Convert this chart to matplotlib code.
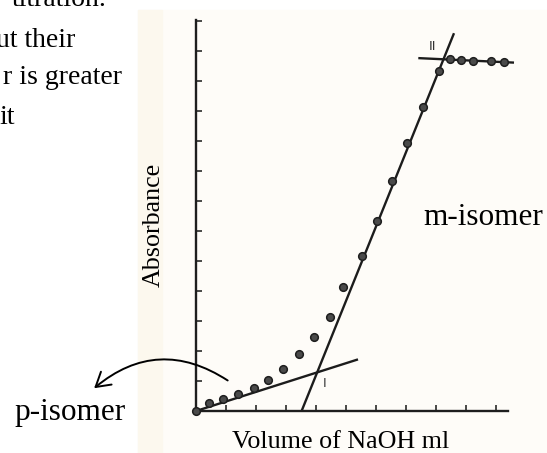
import numpy as np
import matplotlib.pyplot as plt
from matplotlib.patches import FancyArrowPatch, Rectangle

# titration readings (tick units on both axes)
volume = [0.0, 0.44, 0.89, 1.41, 1.94, 2.39, 2.91, 3.43, 3.93, 4.47, 4.91,
          5.54, 6.02, 6.54, 7.04, 7.56, 8.09, 8.47, 8.82, 9.22, 9.82, 10.27]
absorb = [0.0, 0.26, 0.39, 0.57, 0.76, 1.03, 1.39, 1.89, 2.46, 3.14, 4.12,
          5.18, 6.34, 7.68, 8.92, 10.12, 11.34, 11.72, 11.70, 11.68, 11.67, 11.63]

# straight-line fits: [x0, x1], [y0, y1]
line_p_x, line_p_y = [0.0, 5.4], [0.0, 1.72]
line_m_x, line_m_y = [3.52, 8.6], [0.0, 12.59]
line_end_x, line_end_y = [7.41, 10.6], [11.76, 11.61]

xticks = list(range(1, 11))
yticks = list(range(1, 14))

W, H = 547, 453
plt.rcParams['font.family'] = ['Liberation Serif', 'DejaVu Serif']

fig = plt.figure(figsize=(W / 100, H / 100), dpi=100)

def px(x, y):
    return x / W, 1 - y / H

# faint scanned page behind the graph
fig.patches.append(Rectangle(px(138, 453), (W - 138) / W, 443 / H,
                             transform=fig.transFigure, color='#fefcf8', zorder=-2))
fig.patches.append(Rectangle(px(138, 453), 24 / W, 443 / H,
                             transform=fig.transFigure, color='#fcf8ee', zorder=-2))

ax = fig.add_axes([196 / W, 1 - 411 / H, 312 / W, 391 / H])
ax.set_zorder(1)
ax.patch.set_alpha(0)
ax.set_xlim(0, 10.4)
ax.set_ylim(0, 13.03)
for s in ('top', 'right'):
    ax.spines[s].set_visible(False)
for s in ('left', 'bottom'):
    ax.spines[s].set_linewidth(1.7)
    ax.spines[s].set_color('#1e1e1e')
ax.set_xticks(xticks)
ax.set_yticks(yticks)
ax.tick_params(direction='in', length=4, width=1.2, color='#2a2a2a',
               labelbottom=False, labelleft=False)

lk = dict(color='#1c1c1c', lw=1.7, solid_capstyle='butt', zorder=2)
ax.plot(line_p_x, line_p_y, **lk)
ax.plot(line_m_x, line_m_y, **lk, clip_on=False)
ax.plot(line_end_x, line_end_y, **lk, clip_on=False)
ax.plot(volume, absorb, 'o', ms=5.5, mfc='#4a4a4a', mec='#1e1e1e', mew=1.1,
        zorder=3, clip_on=False)

ax.text(4.27, 0.93, 'I', fontsize=9, family='DejaVu Sans', color='#333333',
        ha='center', va='center')
ax.text(7.9, 12.14, 'II', fontsize=9.5, family='DejaVu Sans', color='#333333',
        ha='center', va='center')

fig.text(*px(154, 225), 'Absorbance', rotation=90, fontsize=18.7,
         ha='center', va='center')
fig.text(*px(341, 442), 'Volume of NaOH ml', fontsize=18.7,
         ha='center', va='center')
fig.text(*px(483, 225), 'm-isomer', fontsize=22.5, ha='center', va='baseline')
fig.text(*px(70, 420), 'p-isomer', fontsize=22.5, ha='center', va='baseline')

# clipped lines of the surrounding paragraph
para = [('titration.', 107, 6), ('ut their', 75, 47),
        ('r is greater', 122, 84), ('it', 15, 124)]
for txt, xr, yb in para:
    fig.text(*px(xr, yb), txt, fontsize=20, ha='right', va='baseline')

arr = FancyArrowPatch(px(230, 382), px(92, 390), transform=fig.transFigure,
                      connectionstyle='arc3,rad=0.38',
                      arrowstyle='->,head_length=10,head_width=6',
                      color='black', lw=1.4, mutation_scale=1, zorder=3)
fig.patches.append(arr)

fig.savefig('out.png', dpi=100)
